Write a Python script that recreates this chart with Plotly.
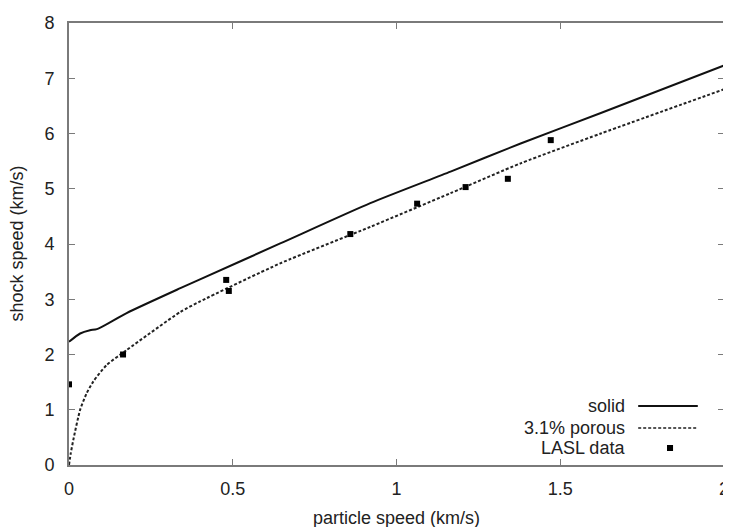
import plotly.graph_objects as go

# Data
solid_x = [0.0, 0.034, 0.064, 0.085, 0.176, 0.34, 0.40, 0.645, 0.92, 1.165, 1.379, 1.624, 2.0]
solid_y = [2.23, 2.38, 2.44, 2.46, 2.75, 3.20, 3.36, 4.01, 4.74, 5.31, 5.82, 6.37, 7.23]

porous_x = [0.0, 0.005, 0.013, 0.034, 0.054, 0.074, 0.115, 0.176, 0.34, 0.40, 0.645, 0.92, 1.165, 1.379, 1.624, 2.0]
porous_y = [0.0, 0.2, 0.45, 1.00, 1.30, 1.51, 1.81, 2.08, 2.77, 2.96, 3.65, 4.31, 4.92, 5.46, 6.00, 6.80]

lasl_x = [0.0, 0.165, 0.48, 0.488, 0.859, 1.063, 1.211, 1.34, 1.471]
lasl_y = [1.46, 2.00, 3.35, 3.15, 4.18, 4.73, 5.03, 5.18, 5.88]

x_ticks = [0, 0.5, 1, 1.5, 2]
x_ticklabels = ["0", "0.5", "1", "1.5", "2"]
y_ticks = [0, 1, 2, 3, 4, 5, 6, 7, 8]

legend_names = ["solid", "3.1% porous", "LASL data"]

FONT = "Liberation Sans, Arial, sans-serif"
TXT = "#222222"
AX = "#7a7a7a"

fig = go.Figure()
fig.add_trace(go.Scatter(x=solid_x, y=solid_y, mode="lines",
                         line=dict(color="#111111", width=2, shape="spline", smoothing=0.6),
                         showlegend=False))
fig.add_trace(go.Scatter(x=porous_x, y=porous_y, mode="lines",
                         line=dict(color="#222222", width=2, dash="3px,2px", shape="spline", smoothing=0.6),
                         showlegend=False))
fig.add_trace(go.Scatter(x=lasl_x, y=lasl_y, mode="markers",
                         marker=dict(symbol="square", size=6, color="#000000"), showlegend=False))

# Custom legend (text right-aligned, samples on the right), in paper coordinates
rows_y = [0.1335, 0.0837, 0.0385]
for name, ry in zip(legend_names, rows_y):
    fig.add_annotation(x=0.852, y=ry, xref="paper", yref="paper", text=name,
                       showarrow=False, xanchor="right", yanchor="middle",
                       font=dict(family=FONT, size=18, color=TXT))
fig.add_shape(type="line", xref="paper", yref="paper", x0=0.869, x1=0.960,
              y0=rows_y[0], y1=rows_y[0], line=dict(color="#111111", width=2))
fig.add_shape(type="line", xref="paper", yref="paper", x0=0.869, x1=0.960,
              y0=rows_y[1], y1=rows_y[1], line=dict(color="#555555", width=2, dash="3px,2px"))
fig.add_shape(type="rect", xref="paper", yref="paper", x0=0.9130, x1=0.9222,
              y0=rows_y[2] - 0.0068, y1=rows_y[2] + 0.0068,
              line=dict(width=0), fillcolor="#000000")

axis_common = dict(showgrid=False, zeroline=False, showline=True, linecolor=AX, linewidth=2,
                   mirror="ticks", ticks="inside", ticklen=6, tickcolor=AX, tickwidth=1,
                   automargin=False,
                   tickfont=dict(family=FONT, size=18, color=TXT))

# The page adds an 8px body margin, so the figure is sized to fit the 731x527 window
fig.update_layout(
    width=723, height=519,
    margin=dict(l=61, r=7, t=15, b=62),
    paper_bgcolor="white", plot_bgcolor="white",
    xaxis=dict(range=[0, 2], tickvals=x_ticks, ticktext=x_ticklabels,
               ticklabelstandoff=6,
               **axis_common),
    yaxis=dict(range=[0, 8], tickvals=y_ticks,
               ticklabelstandoff=9,
               **axis_common),
)

# Axis titles placed as text relative to the plotting area
fig.add_annotation(x=0.5, y=-0.093, xref="paper", yref="paper", text="particle speed (km/s)",
                   showarrow=False, xanchor="center", yanchor="top",
                   font=dict(family=FONT, size=18, color=TXT))
fig.add_annotation(x=-0.08, y=0.5, xref="paper", yref="paper", text="shock speed (km/s)",
                   showarrow=False, xanchor="center", yanchor="middle", textangle=-90,
                   font=dict(family=FONT, size=18, color=TXT))

fig.write_html("out.html")
